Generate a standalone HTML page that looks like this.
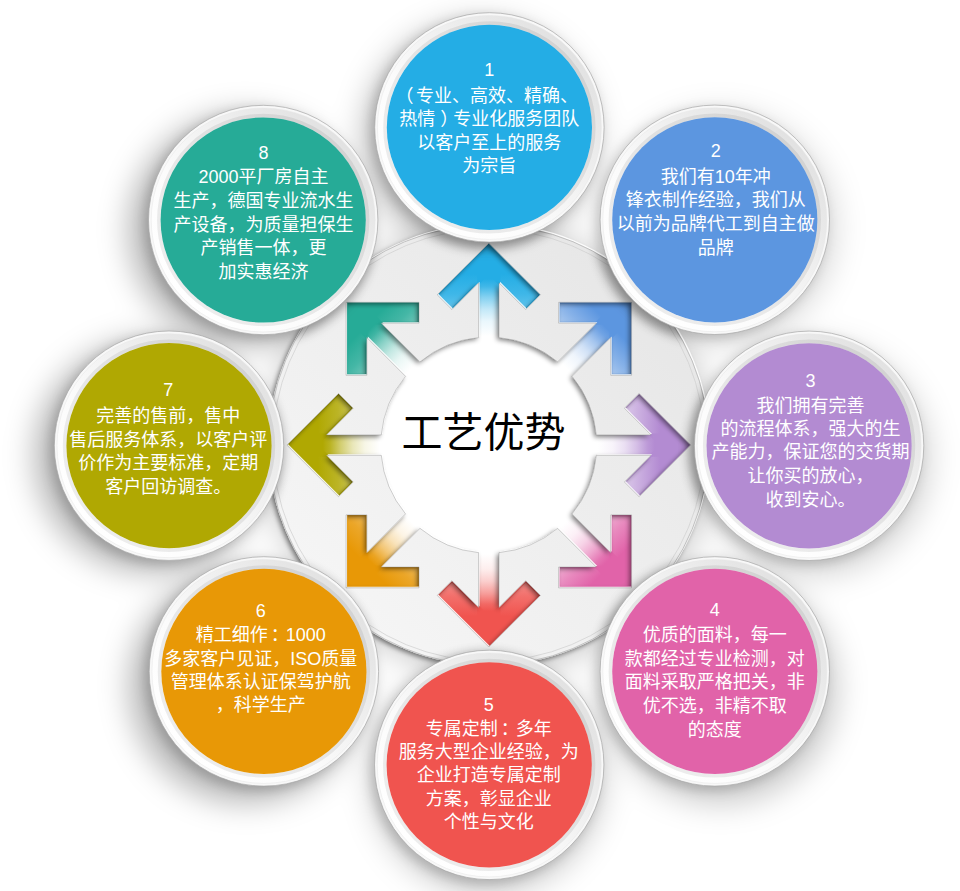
<!DOCTYPE html>
<html lang="zh-CN">
<head>
<meta charset="utf-8">
<title>工艺优势</title>
<style>
html,body{margin:0;padding:0;background:#fff;}
body{width:960px;height:891px;overflow:hidden;position:relative;font-family:"Liberation Sans","Noto Sans CJK SC",sans-serif;}
svg{position:absolute;left:0;top:0;display:block;}
.t{font-family:"Liberation Sans","Noto Sans CJK SC",sans-serif;font-size:18px;fill:#fff;text-anchor:middle;}
.title{font-family:"Liberation Sans","Noto Sans CJK SC",sans-serif;font-size:41px;font-weight:400;fill:#000;text-anchor:middle;}
</style>
</head>
<body>
<svg width="960" height="891" viewBox="0 0 960 891">
<defs>
<filter id="blur18" x="-40%" y="-40%" width="180%" height="180%"><feGaussianBlur stdDeviation="15"/></filter>
<filter id="blur4" x="-20%" y="-20%" width="140%" height="140%"><feGaussianBlur stdDeviation="5.5"/></filter>
<filter id="ringsh" x="-10%" y="-10%" width="120%" height="120%">
  <feGaussianBlur in="SourceAlpha" stdDeviation="2.8" result="b"/>
  <feOffset in="b" dx="-1.6" dy="2.2" result="o"/>
  <feComponentTransfer in="o" result="s"><feFuncA type="linear" slope="0.5"/></feComponentTransfer>
  <feOffset in="SourceAlpha" dx="1" dy="-1" result="h0"/>
  <feFlood flood-color="#fff" flood-opacity="0.9" result="wf"/>
  <feComposite in="wf" in2="h0" operator="in" result="hl"/>
  <feMerge><feMergeNode in="s"/><feMergeNode in="hl"/><feMergeNode in="SourceGraphic"/></feMerge>
</filter>
<linearGradient id="ringl" x1="0.1" y1="0.9" x2="0.9" y2="0.1">
  <stop offset="0" stop-color="#f6f6f6"/>
  <stop offset="0.5" stop-color="#eeeeee"/>
  <stop offset="1" stop-color="#e6e6e6"/>
</linearGradient>
<clipPath id="ringclip"><circle cx="488.8" cy="445.1" r="220.5"/></clipPath>
<linearGradient id="bord" x1="0.15" y1="0.85" x2="0.85" y2="0.15">
  <stop offset="0" stop-color="#ffffff"/>
  <stop offset="0.35" stop-color="#fbfbfb"/>
  <stop offset="1" stop-color="#e2e2e2"/>
</linearGradient>
<linearGradient id="ag0" gradientUnits="userSpaceOnUse" x1="0" y1="-201" x2="0" y2="-101">
<stop offset="0" stop-color="#24ade5"/><stop offset="0.3" stop-color="#24ade5"/><stop offset="0.5" stop-color="#24ade5" stop-opacity="0.88"/><stop offset="0.66" stop-color="#24ade5" stop-opacity="0.7"/>
</linearGradient>
<linearGradient id="sg0" gradientUnits="userSpaceOnUse" x1="0" y1="-201" x2="0" y2="-101">
<stop offset="0" stop-color="#24ade5"/><stop offset="0.35" stop-color="#24ade5"/><stop offset="0.42" stop-color="#24ade5" stop-opacity="0.88"/><stop offset="0.53" stop-color="#24ade5" stop-opacity="0.56"/><stop offset="0.65" stop-color="#24ade5" stop-opacity="0.28"/><stop offset="0.77" stop-color="#24ade5" stop-opacity="0.1"/><stop offset="0.92" stop-color="#24ade5" stop-opacity="0"/>
</linearGradient>
<linearGradient id="ag1" gradientUnits="userSpaceOnUse" x1="0" y1="-201" x2="0" y2="-101">
<stop offset="0" stop-color="#5c96e0"/><stop offset="0.3" stop-color="#5c96e0"/><stop offset="0.5" stop-color="#5c96e0" stop-opacity="0.74"/><stop offset="0.66" stop-color="#5c96e0" stop-opacity="0.5"/>
</linearGradient>
<linearGradient id="sg1" gradientUnits="userSpaceOnUse" x1="0" y1="-201" x2="0" y2="-101">
<stop offset="0" stop-color="#5c96e0"/><stop offset="0.35" stop-color="#5c96e0"/><stop offset="0.42" stop-color="#5c96e0" stop-opacity="0.88"/><stop offset="0.53" stop-color="#5c96e0" stop-opacity="0.56"/><stop offset="0.65" stop-color="#5c96e0" stop-opacity="0.28"/><stop offset="0.77" stop-color="#5c96e0" stop-opacity="0.1"/><stop offset="0.92" stop-color="#5c96e0" stop-opacity="0"/>
</linearGradient>
<linearGradient id="ag2" gradientUnits="userSpaceOnUse" x1="0" y1="-201" x2="0" y2="-101">
<stop offset="0" stop-color="#b38bd2"/><stop offset="0.3" stop-color="#b38bd2"/><stop offset="0.5" stop-color="#b38bd2" stop-opacity="0.7"/><stop offset="0.66" stop-color="#b38bd2" stop-opacity="0.45"/>
</linearGradient>
<linearGradient id="sg2" gradientUnits="userSpaceOnUse" x1="0" y1="-201" x2="0" y2="-101">
<stop offset="0" stop-color="#b38bd2"/><stop offset="0.35" stop-color="#b38bd2"/><stop offset="0.42" stop-color="#b38bd2" stop-opacity="0.88"/><stop offset="0.53" stop-color="#b38bd2" stop-opacity="0.56"/><stop offset="0.65" stop-color="#b38bd2" stop-opacity="0.28"/><stop offset="0.77" stop-color="#b38bd2" stop-opacity="0.1"/><stop offset="0.92" stop-color="#b38bd2" stop-opacity="0"/>
</linearGradient>
<linearGradient id="ag3" gradientUnits="userSpaceOnUse" x1="0" y1="-201" x2="0" y2="-101">
<stop offset="0" stop-color="#e163a9"/><stop offset="0.3" stop-color="#e163a9"/><stop offset="0.5" stop-color="#e163a9" stop-opacity="0.76"/><stop offset="0.66" stop-color="#e163a9" stop-opacity="0.52"/>
</linearGradient>
<linearGradient id="sg3" gradientUnits="userSpaceOnUse" x1="0" y1="-201" x2="0" y2="-101">
<stop offset="0" stop-color="#e163a9"/><stop offset="0.35" stop-color="#e163a9"/><stop offset="0.42" stop-color="#e163a9" stop-opacity="0.88"/><stop offset="0.53" stop-color="#e163a9" stop-opacity="0.56"/><stop offset="0.65" stop-color="#e163a9" stop-opacity="0.28"/><stop offset="0.77" stop-color="#e163a9" stop-opacity="0.1"/><stop offset="0.92" stop-color="#e163a9" stop-opacity="0"/>
</linearGradient>
<linearGradient id="ag4" gradientUnits="userSpaceOnUse" x1="0" y1="-201" x2="0" y2="-101">
<stop offset="0" stop-color="#f0544f"/><stop offset="0.3" stop-color="#f0544f"/><stop offset="0.5" stop-color="#f0544f" stop-opacity="0.84"/><stop offset="0.66" stop-color="#f0544f" stop-opacity="0.66"/>
</linearGradient>
<linearGradient id="sg4" gradientUnits="userSpaceOnUse" x1="0" y1="-201" x2="0" y2="-101">
<stop offset="0" stop-color="#f0544f"/><stop offset="0.35" stop-color="#f0544f"/><stop offset="0.42" stop-color="#f0544f" stop-opacity="0.88"/><stop offset="0.53" stop-color="#f0544f" stop-opacity="0.56"/><stop offset="0.65" stop-color="#f0544f" stop-opacity="0.28"/><stop offset="0.77" stop-color="#f0544f" stop-opacity="0.1"/><stop offset="0.92" stop-color="#f0544f" stop-opacity="0"/>
</linearGradient>
<linearGradient id="ag5" gradientUnits="userSpaceOnUse" x1="0" y1="-201" x2="0" y2="-101">
<stop offset="0" stop-color="#e89806"/><stop offset="0.3" stop-color="#e89806"/><stop offset="0.5" stop-color="#e89806" stop-opacity="0.86"/><stop offset="0.66" stop-color="#e89806" stop-opacity="0.66"/>
</linearGradient>
<linearGradient id="sg5" gradientUnits="userSpaceOnUse" x1="0" y1="-201" x2="0" y2="-101">
<stop offset="0" stop-color="#e89806"/><stop offset="0.35" stop-color="#e89806"/><stop offset="0.42" stop-color="#e89806" stop-opacity="0.88"/><stop offset="0.53" stop-color="#e89806" stop-opacity="0.56"/><stop offset="0.65" stop-color="#e89806" stop-opacity="0.28"/><stop offset="0.77" stop-color="#e89806" stop-opacity="0.1"/><stop offset="0.92" stop-color="#e89806" stop-opacity="0"/>
</linearGradient>
<linearGradient id="ag6" gradientUnits="userSpaceOnUse" x1="0" y1="-201" x2="0" y2="-101">
<stop offset="0" stop-color="#b0a802"/><stop offset="0.3" stop-color="#b0a802"/><stop offset="0.5" stop-color="#b0a802" stop-opacity="0.86"/><stop offset="0.66" stop-color="#b0a802" stop-opacity="0.66"/>
</linearGradient>
<linearGradient id="sg6" gradientUnits="userSpaceOnUse" x1="0" y1="-201" x2="0" y2="-101">
<stop offset="0" stop-color="#b0a802"/><stop offset="0.35" stop-color="#b0a802"/><stop offset="0.42" stop-color="#b0a802" stop-opacity="0.88"/><stop offset="0.53" stop-color="#b0a802" stop-opacity="0.56"/><stop offset="0.65" stop-color="#b0a802" stop-opacity="0.28"/><stop offset="0.77" stop-color="#b0a802" stop-opacity="0.1"/><stop offset="0.92" stop-color="#b0a802" stop-opacity="0"/>
</linearGradient>
<linearGradient id="ag7" gradientUnits="userSpaceOnUse" x1="0" y1="-201" x2="0" y2="-101">
<stop offset="0" stop-color="#26ab97"/><stop offset="0.3" stop-color="#26ab97"/><stop offset="0.5" stop-color="#26ab97" stop-opacity="0.86"/><stop offset="0.66" stop-color="#26ab97" stop-opacity="0.64"/>
</linearGradient>
<linearGradient id="sg7" gradientUnits="userSpaceOnUse" x1="0" y1="-201" x2="0" y2="-101">
<stop offset="0" stop-color="#26ab97"/><stop offset="0.35" stop-color="#26ab97"/><stop offset="0.42" stop-color="#26ab97" stop-opacity="0.88"/><stop offset="0.53" stop-color="#26ab97" stop-opacity="0.56"/><stop offset="0.65" stop-color="#26ab97" stop-opacity="0.28"/><stop offset="0.77" stop-color="#26ab97" stop-opacity="0.1"/><stop offset="0.92" stop-color="#26ab97" stop-opacity="0"/>
</linearGradient>
</defs>
<g filter="url(#blur18)" fill="#000">
<circle cx="479.4" cy="137.4" r="116.7" fill-opacity="0.24"/>
<circle cx="719.8" cy="227.8" r="116.7" fill-opacity="0.14"/>
<circle cx="814.1" cy="458.8" r="116.7" fill-opacity="0.16"/>
<circle cx="720.8" cy="687.4" r="116.7" fill-opacity="0.2"/>
<circle cx="487.2" cy="776.9" r="116.7" fill-opacity="0.2"/>
<circle cx="245.9" cy="686.4" r="116.7" fill-opacity="0.28"/>
<circle cx="151.0" cy="455.7" r="116.7" fill-opacity="0.28"/>
<circle cx="245.2" cy="230.0" r="116.7" fill-opacity="0.28"/>
<circle cx="488.8" cy="450.1" r="223.5" fill-opacity="0.2"/>
</g>
<circle cx="488.8" cy="445.1" r="219.5" fill="#fff"/>
<g transform="translate(488.8 445.1) rotate(0)"><rect x="-11.7" y="-175.48" width="23.4" height="80.48" fill="url(#sg0)"/><polygon points="-51.60,-150.30 0.00,-201.90 51.60,-150.30 36.89,-135.59 0.00,-172.48 -36.89,-135.59" fill="url(#ag0)" stroke="url(#ag0)" stroke-width="3"/></g>
<g transform="translate(488.8 445.1) rotate(45)"><rect x="-11.7" y="-175.48" width="23.4" height="80.48" fill="url(#sg1)"/><polygon points="-51.60,-150.30 0.00,-201.90 51.60,-150.30 36.89,-135.59 0.00,-172.48 -36.89,-135.59" fill="url(#ag1)" stroke="url(#ag1)" stroke-width="3"/></g>
<g transform="translate(488.8 445.1) rotate(90)"><rect x="-11.7" y="-175.48" width="23.4" height="80.48" fill="url(#sg2)"/><polygon points="-51.60,-150.30 0.00,-201.90 51.60,-150.30 36.89,-135.59 0.00,-172.48 -36.89,-135.59" fill="url(#ag2)" stroke="url(#ag2)" stroke-width="3"/></g>
<g transform="translate(488.8 445.1) rotate(135)"><rect x="-11.7" y="-175.48" width="23.4" height="80.48" fill="url(#sg3)"/><polygon points="-51.60,-150.30 0.00,-201.90 51.60,-150.30 36.89,-135.59 0.00,-172.48 -36.89,-135.59" fill="url(#ag3)" stroke="url(#ag3)" stroke-width="3"/></g>
<g transform="translate(488.8 445.1) rotate(180)"><rect x="-11.7" y="-175.48" width="23.4" height="80.48" fill="url(#sg4)"/><polygon points="-51.60,-150.30 0.00,-201.90 51.60,-150.30 36.89,-135.59 0.00,-172.48 -36.89,-135.59" fill="url(#ag4)" stroke="url(#ag4)" stroke-width="3"/></g>
<g transform="translate(488.8 445.1) rotate(225)"><rect x="-11.7" y="-175.48" width="23.4" height="80.48" fill="url(#sg5)"/><polygon points="-51.60,-150.30 0.00,-201.90 51.60,-150.30 36.89,-135.59 0.00,-172.48 -36.89,-135.59" fill="url(#ag5)" stroke="url(#ag5)" stroke-width="3"/></g>
<g transform="translate(488.8 445.1) rotate(270)"><rect x="-11.7" y="-175.48" width="23.4" height="80.48" fill="url(#sg6)"/><polygon points="-51.60,-150.30 0.00,-201.90 51.60,-150.30 36.89,-135.59 0.00,-172.48 -36.89,-135.59" fill="url(#ag6)" stroke="url(#ag6)" stroke-width="3"/></g>
<g transform="translate(488.8 445.1) rotate(315)"><rect x="-11.7" y="-175.48" width="23.4" height="80.48" fill="url(#sg7)"/><polygon points="-51.60,-150.30 0.00,-201.90 51.60,-150.30 36.89,-135.59 0.00,-172.48 -36.89,-135.59" fill="url(#ag7)" stroke="url(#ag7)" stroke-width="3"/></g>
<g filter="url(#ringsh)"><path d="M268.30 445.10A220.5 220.5 0 1 0 709.30 445.10A220.5 220.5 0 1 0 268.30 445.10ZM478.60 337.58L478.60 282.82L451.91 309.51L437.20 294.80L488.80 243.20L540.40 294.80L525.69 309.51L499.00 282.82L499.00 337.58A108.0 108.0 0 0 1 557.61 361.86L596.34 323.14L558.59 323.14L558.59 302.34L631.56 302.34L631.56 375.31L610.76 375.31L610.76 337.56L572.04 376.29A108.0 108.0 0 0 1 596.32 434.90L651.08 434.90L624.39 408.21L639.10 393.50L690.70 445.10L639.10 496.70L624.39 481.99L651.08 455.30L596.32 455.30A108.0 108.0 0 0 1 572.04 513.91L610.76 552.64L610.76 514.89L631.56 514.89L631.56 587.86L558.59 587.86L558.59 567.06L596.34 567.06L557.61 528.34A108.0 108.0 0 0 1 499.00 552.62L499.00 607.38L525.69 580.69L540.40 595.40L488.80 647.00L437.20 595.40L451.91 580.69L478.60 607.38L478.60 552.62A108.0 108.0 0 0 1 419.99 528.34L381.26 567.06L419.01 567.06L419.01 587.86L346.04 587.86L346.04 514.89L366.84 514.89L366.84 552.64L405.56 513.91A108.0 108.0 0 0 1 381.28 455.30L326.52 455.30L353.21 481.99L338.50 496.70L286.90 445.10L338.50 393.50L353.21 408.21L326.52 434.90L381.28 434.90A108.0 108.0 0 0 1 405.56 376.29L366.84 337.56L366.84 375.31L346.04 375.31L346.04 302.34L419.01 302.34L419.01 323.14L381.26 323.14L419.99 361.86A108.0 108.0 0 0 1 478.60 337.58Z" fill="url(#ringl)" fill-rule="evenodd"/></g>
<path d="M478.60 337.58L478.60 282.82L451.91 309.51L437.20 294.80L488.80 243.20L540.40 294.80L525.69 309.51L499.00 282.82L499.00 337.58A108.0 108.0 0 0 1 557.61 361.86L596.34 323.14L558.59 323.14L558.59 302.34L631.56 302.34L631.56 375.31L610.76 375.31L610.76 337.56L572.04 376.29A108.0 108.0 0 0 1 596.32 434.90L651.08 434.90L624.39 408.21L639.10 393.50L690.70 445.10L639.10 496.70L624.39 481.99L651.08 455.30L596.32 455.30A108.0 108.0 0 0 1 572.04 513.91L610.76 552.64L610.76 514.89L631.56 514.89L631.56 587.86L558.59 587.86L558.59 567.06L596.34 567.06L557.61 528.34A108.0 108.0 0 0 1 499.00 552.62L499.00 607.38L525.69 580.69L540.40 595.40L488.80 647.00L437.20 595.40L451.91 580.69L478.60 607.38L478.60 552.62A108.0 108.0 0 0 1 419.99 528.34L381.26 567.06L419.01 567.06L419.01 587.86L346.04 587.86L346.04 514.89L366.84 514.89L366.84 552.64L405.56 513.91A108.0 108.0 0 0 1 381.28 455.30L326.52 455.30L353.21 481.99L338.50 496.70L286.90 445.10L338.50 393.50L353.21 408.21L326.52 434.90L381.28 434.90A108.0 108.0 0 0 1 405.56 376.29L366.84 337.56L366.84 375.31L346.04 375.31L346.04 302.34L419.01 302.34L419.01 323.14L381.26 323.14L419.99 361.86A108.0 108.0 0 0 1 478.60 337.58Z" fill="none" stroke="#8c8c8c" stroke-opacity="0.6" stroke-width="0.7"/>
<circle cx="488.8" cy="445.1" r="220.1" fill="none" stroke="#b5b5b5" stroke-width="0.8"/>
<circle cx="488.8" cy="445.1" r="216.0" fill="none" stroke="#cfcfcf" stroke-width="0.7"/>
<g filter="url(#blur4)" fill="#000" fill-opacity="0.17">
<circle cx="485.4" cy="131.4" r="115.7"/>
<circle cx="710.8" cy="223.8" r="115.7"/>
<circle cx="805.1" cy="449.8" r="115.7"/>
<circle cx="710.8" cy="675.4" r="115.7"/>
<circle cx="485.2" cy="768.9" r="115.7"/>
<circle cx="259.9" cy="675.4" r="115.7"/>
<circle cx="165.0" cy="449.7" r="115.7"/>
<circle cx="259.2" cy="224.0" r="115.7"/>
</g>
<g clip-path="url(#ringclip)"><g filter="url(#blur4)" fill="#000" fill-opacity="0.30">
<circle cx="486.4" cy="132.4" r="116.7"/>
<circle cx="711.8" cy="224.8" r="116.7"/>
<circle cx="806.1" cy="450.8" r="116.7"/>
<circle cx="711.8" cy="676.4" r="116.7"/>
<circle cx="486.2" cy="769.9" r="116.7"/>
<circle cx="260.9" cy="676.4" r="116.7"/>
<circle cx="166.0" cy="450.7" r="116.7"/>
<circle cx="260.2" cy="225.0" r="116.7"/>
</g></g>
<circle cx="489.4" cy="127.4" r="114.7" fill="#f8f8f8" stroke="#a6a6a6" stroke-width="0.7"/>
<circle cx="489.4" cy="127.4" r="112.0" fill="url(#bord)" stroke="#e6e6e6" stroke-width="0.5"/>
<circle cx="489.4" cy="127.4" r="104.39999999999999" fill="none" stroke="#000" stroke-opacity="0.07" stroke-width="3.6"/>
<circle cx="489.4" cy="127.4" r="102.6" fill="#24ade5"/>
<circle cx="714.8" cy="219.8" r="114.7" fill="#f8f8f8" stroke="#a6a6a6" stroke-width="0.7"/>
<circle cx="714.8" cy="219.8" r="112.0" fill="url(#bord)" stroke="#e6e6e6" stroke-width="0.5"/>
<circle cx="714.8" cy="219.8" r="104.39999999999999" fill="none" stroke="#000" stroke-opacity="0.07" stroke-width="3.6"/>
<circle cx="714.8" cy="219.8" r="102.6" fill="#5c96e0"/>
<circle cx="809.1" cy="445.8" r="114.7" fill="#f8f8f8" stroke="#a6a6a6" stroke-width="0.7"/>
<circle cx="809.1" cy="445.8" r="112.0" fill="url(#bord)" stroke="#e6e6e6" stroke-width="0.5"/>
<circle cx="809.1" cy="445.8" r="104.39999999999999" fill="none" stroke="#000" stroke-opacity="0.07" stroke-width="3.6"/>
<circle cx="809.1" cy="445.8" r="102.6" fill="#b38bd2"/>
<circle cx="714.8" cy="671.4" r="114.7" fill="#f8f8f8" stroke="#a6a6a6" stroke-width="0.7"/>
<circle cx="714.8" cy="671.4" r="112.0" fill="url(#bord)" stroke="#e6e6e6" stroke-width="0.5"/>
<circle cx="714.8" cy="671.4" r="104.39999999999999" fill="none" stroke="#000" stroke-opacity="0.07" stroke-width="3.6"/>
<circle cx="714.8" cy="671.4" r="102.6" fill="#e163a9"/>
<circle cx="489.2" cy="764.9" r="114.7" fill="#f8f8f8" stroke="#a6a6a6" stroke-width="0.7"/>
<circle cx="489.2" cy="764.9" r="112.0" fill="url(#bord)" stroke="#e6e6e6" stroke-width="0.5"/>
<circle cx="489.2" cy="764.9" r="104.39999999999999" fill="none" stroke="#000" stroke-opacity="0.07" stroke-width="3.6"/>
<circle cx="489.2" cy="764.9" r="102.6" fill="#f0544f"/>
<circle cx="263.9" cy="671.4" r="114.7" fill="#f8f8f8" stroke="#a6a6a6" stroke-width="0.7"/>
<circle cx="263.9" cy="671.4" r="112.0" fill="url(#bord)" stroke="#e6e6e6" stroke-width="0.5"/>
<circle cx="263.9" cy="671.4" r="104.39999999999999" fill="none" stroke="#000" stroke-opacity="0.07" stroke-width="3.6"/>
<circle cx="263.9" cy="671.4" r="102.6" fill="#e89806"/>
<circle cx="169.0" cy="445.7" r="114.7" fill="#f8f8f8" stroke="#a6a6a6" stroke-width="0.7"/>
<circle cx="169.0" cy="445.7" r="112.0" fill="url(#bord)" stroke="#e6e6e6" stroke-width="0.5"/>
<circle cx="169.0" cy="445.7" r="104.39999999999999" fill="none" stroke="#000" stroke-opacity="0.07" stroke-width="3.6"/>
<circle cx="169.0" cy="445.7" r="102.6" fill="#b0a802"/>
<circle cx="263.2" cy="220.0" r="114.7" fill="#f8f8f8" stroke="#a6a6a6" stroke-width="0.7"/>
<circle cx="263.2" cy="220.0" r="112.0" fill="url(#bord)" stroke="#e6e6e6" stroke-width="0.5"/>
<circle cx="263.2" cy="220.0" r="104.39999999999999" fill="none" stroke="#000" stroke-opacity="0.07" stroke-width="3.6"/>
<circle cx="263.2" cy="220.0" r="102.6" fill="#26ab97"/>
<text class="t" x="489.3" y="75.8">1</text>
<text class="t" x="489.3" y="101.6"><tspan dx="-2.5">（</tspan><tspan dx="2.5">专业、高效、精确、</tspan></text>
<text class="t" x="489.3" y="125.2">热情<tspan dx="5">）</tspan><tspan dx="-5">专业化服务团队</tspan></text>
<text class="t" x="489.3" y="148.8">以客户至上的服务</text>
<text class="t" x="489.3" y="172.4">为宗旨</text>
<text class="t" x="715.7" y="156.9">2</text>
<text class="t" x="715.7" y="182.7">我们有10年冲</text>
<text class="t" x="715.7" y="206.3">锋衣制作经验，我们从</text>
<text class="t" x="715.7" y="229.9">以前为品牌代工到自主做</text>
<text class="t" x="715.7" y="253.5">品牌</text>
<text class="t" x="810.5" y="386.5">3</text>
<text class="t" x="810.5" y="411.7">我们拥有完善</text>
<text class="t" x="810.5" y="434.8">的流程体系，强大的生</text>
<text class="t" x="810.5" y="458.3">产能力，保证您的交货期</text>
<text class="t" x="810.5" y="482.3">让你买的放心，</text>
<text class="t" x="810.5" y="506.1">收到安心。</text>
<text class="t" x="714.7" y="615.7">4</text>
<text class="t" x="714.7" y="641.1">优质的面料，每一</text>
<text class="t" x="714.7" y="664.7">款都经过专业检测，对</text>
<text class="t" x="714.7" y="688.3">面料采取严格把关，非</text>
<text class="t" x="714.7" y="711.9">优不选，非精不取</text>
<text class="t" x="714.7" y="735.5">的态度</text>
<text class="t" x="488.7" y="710.5">5</text>
<text class="t" x="488.7" y="735.3">专属定制<tspan dx="3">：</tspan><tspan dx="-3">多年</tspan></text>
<text class="t" x="488.7" y="758.4">服务大型企业经验，为</text>
<text class="t" x="488.7" y="781.3">企业打造专属定制</text>
<text class="t" x="488.7" y="804.9">方案，彰显企业</text>
<text class="t" x="488.7" y="828.0">个性与文化</text>
<text class="t" x="260.7" y="616.5">6</text>
<text class="t" x="260.7" y="640.9">精工细作<tspan dx="3">：</tspan><tspan dx="-3">1000</tspan></text>
<text class="t" x="260.7" y="664.5">多家客户见证，ISO质量</text>
<text class="t" x="260.7" y="687.5">管理体系认证保驾护航</text>
<text class="t" x="260.7" y="710.9">，科学生产</text>
<text class="t" x="168.3" y="396.3">7</text>
<text class="t" x="168.3" y="421.9">完善的售前，售中</text>
<text class="t" x="168.3" y="445.5">售后服务体系，以客户评</text>
<text class="t" x="168.3" y="469.1">价作为主要标准，定期</text>
<text class="t" x="168.3" y="492.7">客户回访调查。</text>
<text class="t" x="263.4" y="158.5">8</text>
<text class="t" x="263.4" y="183.4">2000平厂房自主</text>
<text class="t" x="263.4" y="207.0">生产，德国专业流水生</text>
<text class="t" x="263.4" y="230.6">产设备，为质量担保生</text>
<text class="t" x="263.4" y="254.2">产销售一体，更</text>
<text class="t" x="263.4" y="277.8">加实惠经济</text>
<text class="title" x="483.6" y="447.3">工艺优势</text>
</svg>
</body>
</html>
